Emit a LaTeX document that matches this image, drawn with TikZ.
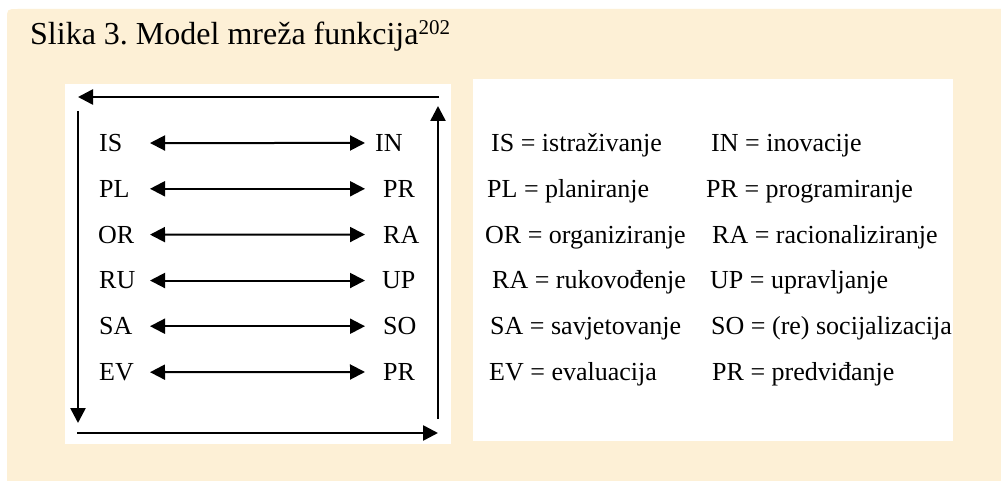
\documentclass[tikz,border=0pt]{standalone}
\usepackage{fontspec}
\setmainfont{Liberation Serif}
\usetikzlibrary{arrows.meta}
\definecolor{paper}{RGB}{253,240,214}
\tikzset{
  lbl/.style={anchor=base west, inner sep=0pt, font=\fontsize{26}{30}\selectfont},
  biarrow/.style={line width=2pt, {Triangle[length=15pt,width=15pt]}-{Triangle[length=15pt,width=15pt]}},
  loop/.style={line width=2.6pt, -{Triangle[length=15pt,width=15pt]}},
  panel/.style={fill=white, draw=none}
}
\begin{document}
\begin{tikzpicture}[x=1pt,y=-1pt]
\useasboundingbox (0,0) rectangle (1001,481);
\fill[white] (0,0) rectangle (1001,481);
% background panel
\fill[paper] (7,481) -- (7,20) .. controls (7,9) .. (18,9) -- (1001,9) -- (1001,481) -- cycle;
% title
\node[anchor=base west, inner sep=0pt, font=\fontsize{32}{36}\selectfont] (title) at (30,45)
  {Slika 3.\ Model mreža funkcija\raisebox{10pt}{\fontsize{21}{24}\selectfont 202}};
% white boxes
\fill[panel] (65,84) rectangle (451,444);
\fill[panel] (473,79) rectangle (953,441);
% left labels
\node[lbl] (IS) at (99,151.5) {IS};
\node[lbl] (PL) at (99,197.3) {PL};
\node[lbl] (OR) at (98,243.1) {OR};
\node[lbl] (RU) at (99,288.9) {RU};
\node[lbl] (SA) at (99,334.7) {SA};
\node[lbl] (EV) at (99,380.5) {EV};
\node[lbl] (IN) at (375,151.5) {IN};
\node[lbl] (PR1) at (383,197.3) {PR};
\node[lbl] (RA) at (383,243.1) {RA};
\node[lbl] (UP) at (382,288.9) {UP};
\node[lbl] (SO) at (383,334.7) {SO};
\node[lbl] (PR2) at (383,380.5) {PR};
\coordinate (xl) at (150,0);
\coordinate (xr) at (365,0);
\foreach \a/\b in {IS/IN,PL/PR1,OR/RA,RU/UP,SA/SO,EV/PR2}
  \draw[biarrow] (\a.east -| xl) -- (\b.west -| xr);
% cycle arrows
\coordinate (tr) at (439,97);
\coordinate (tl) at (78,97);
\coordinate (lt) at (78,111);
\coordinate (lb) at (78,423);
\coordinate (bl) at (77,433);
\coordinate (br) at (438,433);
\coordinate (rb) at (438,419);
\coordinate (rt) at (438,106);
\draw[loop] (tr) -- (tl);
\draw[loop] (lt) -- (lb);
\draw[loop] (bl) -- (br);
\draw[loop] (rb) -- (rt);
% legend
\node[lbl] (k1) at (491,151.5) {IS = istraživanje};
\node[lbl] (k2) at (487,197.3) {PL = planiranje};
\node[lbl] (k3) at (485,243.1) {OR = organiziranje};
\node[lbl] (k4) at (492,288.9) {RA = rukovođenje};
\node[lbl] (k5) at (490,334.7) {SA = savjetovanje};
\node[lbl] (k6) at (489,380.5) {EV = evaluacija};
\node[lbl] (v1) at (711,151.5) {IN = inovacije};
\node[lbl] (v2) at (706,197.3) {PR = programiranje};
\node[lbl] (v3) at (712,243.1) {RA = racionaliziranje};
\node[lbl] (v4) at (710,288.9) {UP = upravljanje};
\node[lbl] (v5) at (711,334.7) {SO = (re) socijalizacija};
\node[lbl] (v6) at (712,380.5) {PR = predviđanje};
\end{tikzpicture}
\end{document}
